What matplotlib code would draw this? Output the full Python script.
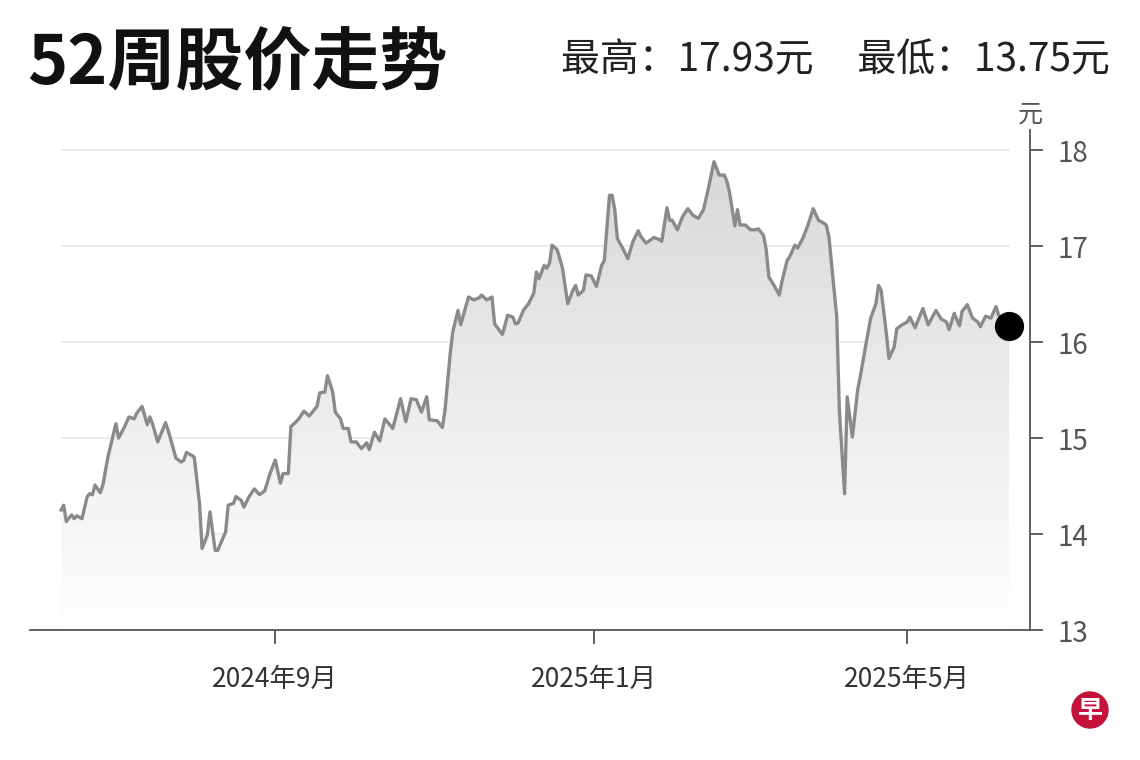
import numpy as np
import matplotlib
matplotlib.use("Agg")
import matplotlib.pyplot as plt
import matplotlib.dates as mdates
from matplotlib.colors import LinearSegmentedColormap
from matplotlib.patches import Circle

plt.rcParams['font.family'] = ['Noto Sans CJK SC', 'DejaVu Sans']

# 数据：从起始日起的天数 与 收盘价（元）
start_date = '2024-06-11'
day_offsets = [
    0, 1, 2, 4, 5, 6, 8, 10, 11, 12, 13, 15, 16, 18, 21, 22, 24, 26, 28, 29,
    31, 33, 34, 35, 37, 40, 41, 44, 46, 47, 48, 50, 51, 53, 54, 56, 57, 59, 60, 62,
    63, 64, 66, 67, 69, 70, 72, 74, 76, 78, 80, 82, 84, 85, 87, 88, 90, 91, 93, 95,
    98, 99, 101, 102, 104, 105, 107, 108, 110, 111, 113, 115, 117, 118, 120, 122, 124, 127, 130, 132,
    134, 136, 138, 140, 141, 144, 146, 147, 149, 150, 152, 153, 156, 158, 160, 161, 163, 165, 166, 169,
    171, 173, 174, 175, 177, 179, 181, 182, 183, 185, 186, 187, 188, 190, 192, 194, 196, 197, 198, 200,
    201, 203, 205, 207, 208, 210, 211, 212, 213, 215, 217, 219, 221, 222, 224, 226, 227, 229, 230, 232,
    233, 234, 236, 238, 240, 242, 244, 246, 248, 250, 252, 254, 255, 256, 258, 259, 260, 262, 264, 266,
    267, 269, 270, 271, 273, 275, 276, 278, 279, 281, 282, 284, 286, 288, 290, 292, 293, 294, 295, 297,
    298, 300, 301, 303, 305, 306, 308, 310, 312, 313, 314, 316, 317, 319, 320, 322, 324, 325, 327, 330,
    332, 335, 337, 339, 340, 342, 344, 345, 347, 349, 351, 352, 354, 356, 358, 359, 363,
]
prices = [
    14.25, 14.30, 14.13, 14.20, 14.16, 14.19, 14.16, 14.39, 14.42, 14.41, 14.51, 14.43, 14.51, 14.81, 15.15, 15.00, 15.10, 15.22, 15.20, 15.26,
    15.33, 15.14, 15.22, 15.15, 14.96, 15.16, 15.08, 14.79, 14.75, 14.77, 14.85, 14.82, 14.80, 14.32, 13.85, 13.99, 14.23, 13.83, 13.83, 13.96,
    14.02, 14.30, 14.32, 14.39, 14.35, 14.28, 14.39, 14.47, 14.41, 14.45, 14.63, 14.77, 14.53, 14.63, 14.63, 15.12, 15.17, 15.20, 15.28, 15.23,
    15.33, 15.47, 15.48, 15.65, 15.48, 15.27, 15.20, 15.10, 15.10, 14.96, 14.96, 14.89, 14.95, 14.88, 15.06, 14.97, 15.20, 15.10, 15.41, 15.17,
    15.41, 15.40, 15.27, 15.43, 15.19, 15.18, 15.11, 15.29, 15.88, 16.11, 16.33, 16.18, 16.47, 16.44, 16.46, 16.49, 16.44, 16.47, 16.19, 16.08,
    16.28, 16.26, 16.19, 16.20, 16.33, 16.40, 16.51, 16.73, 16.66, 16.80, 16.77, 16.82, 17.01, 16.96, 16.77, 16.40, 16.54, 16.59, 16.49, 16.54,
    16.70, 16.69, 16.58, 16.80, 16.85, 17.53, 17.53, 17.38, 17.08, 16.98, 16.87, 17.05, 17.16, 17.10, 17.03, 17.07, 17.09, 17.07, 17.05, 17.40,
    17.27, 17.27, 17.17, 17.31, 17.39, 17.32, 17.29, 17.38, 17.62, 17.88, 17.74, 17.74, 17.67, 17.55, 17.21, 17.38, 17.22, 17.22, 17.17, 17.17,
    17.18, 17.11, 16.96, 16.68, 16.59, 16.49, 16.63, 16.85, 16.89, 17.01, 16.98, 17.08, 17.22, 17.39, 17.27, 17.24, 17.22, 17.10, 16.82, 16.26,
    15.29, 14.42, 15.43, 15.01, 15.50, 15.64, 15.95, 16.25, 16.40, 16.59, 16.54, 16.09, 15.83, 15.95, 16.14, 16.18, 16.21, 16.26, 16.15, 16.35,
    16.18, 16.33, 16.24, 16.21, 16.13, 16.30, 16.17, 16.32, 16.39, 16.25, 16.21, 16.16, 16.27, 16.25, 16.37, 16.28, 16.17,
]
y_ticks = [13, 14, 15, 16, 17, 18]
x_tick_dates = ['2024-09-01', '2025-01-01', '2025-05-01']
x_tick_labels = ['2024年9月', '2025年1月', '2025年5月']
title = '52周股价走势'
summary = '最高：17.93元     最低：13.75元'

dates = np.datetime64(start_date) + np.array(day_offsets).astype('timedelta64[D]')
xs = mdates.date2num(dates)
ys = np.array(prices)

fig = plt.figure(figsize=(11.4, 7.6), dpi=100)
ax = fig.add_axes([30 / 1140, 1 - 630 / 760, 1000 / 1140, 500 / 760])

x0 = mdates.date2num(np.datetime64(start_date))
ax.set_xlim(x0 - 11.9, x0 + 371)
ax.set_ylim(13, 18.21)

# 网格线（只覆盖数据区间）
ax.hlines(y_ticks[1:], xs[0], xs[-1] + 0.5, color='#ececec', lw=1.5, zorder=1)

# 渐变填充
cmap = LinearSegmentedColormap.from_list('g', ['#ffffff', '#d6d6d6'])
grad = np.linspace(0, 1, 256).reshape(-1, 1)
poly = ax.fill_between(xs, ys, 13, color='none', lw=0)
img = ax.imshow(grad, cmap=cmap, origin='lower', aspect='auto',
                extent=[xs[0], xs[-1], 13, 18.2], zorder=2)
img.set_clip_path(poly.get_paths()[0], transform=ax.transData)

ax.plot(xs, ys, color='#8a8a8a', lw=2.4, zorder=3, solid_joinstyle='round')
ax.plot(xs[-1], ys[-1], 'o', color='black', markersize=20, zorder=5, clip_on=False)

# 坐标轴
for s in ['top', 'left']:
    ax.spines[s].set_visible(False)
ax.spines['right'].set_color('#555555')
ax.spines['bottom'].set_color('#555555')
ax.spines['right'].set_linewidth(1.3)
ax.spines['bottom'].set_linewidth(1.3)
ax.yaxis.tick_right()
ax.set_yticks(y_ticks)
ax.tick_params(axis='y', direction='out', length=9, width=1.3, color='#555555',
               labelsize=20, labelcolor='#555555', pad=11)
ax.set_xticks(mdates.date2num(np.array(x_tick_dates, dtype='datetime64[D]')))
ax.set_xticklabels(x_tick_labels)
ax.tick_params(axis='x', direction='out', length=10, width=1.3, color='#555555',
               labelsize=19, labelcolor='#333333', pad=16)

fig.text(1030 / 1140, 1 - 115 / 760, '元', fontsize=18, color='#555555',
         ha='center', va='center')

fig.text(27 / 1140, 1 - 84 / 760, title, fontsize=49, fontweight='bold',
         color='#111111', ha='left', va='baseline')
fig.text(1110 / 1140, 1 - 71 / 760, summary, fontsize=28, color='#222222',
         ha='right', va='baseline')

# 标志
logo = Circle((10.9, 0.5), 0.18, transform=fig.dpi_scale_trans,
              color='#c4123a', zorder=10)
fig.patches.append(logo)
fig.text(1090 / 1140, 1 - 711 / 760, '早', fontsize=18, fontweight='bold',
         color='white', ha='center', va='center', zorder=11)

fig.savefig('out.png', dpi=100)
